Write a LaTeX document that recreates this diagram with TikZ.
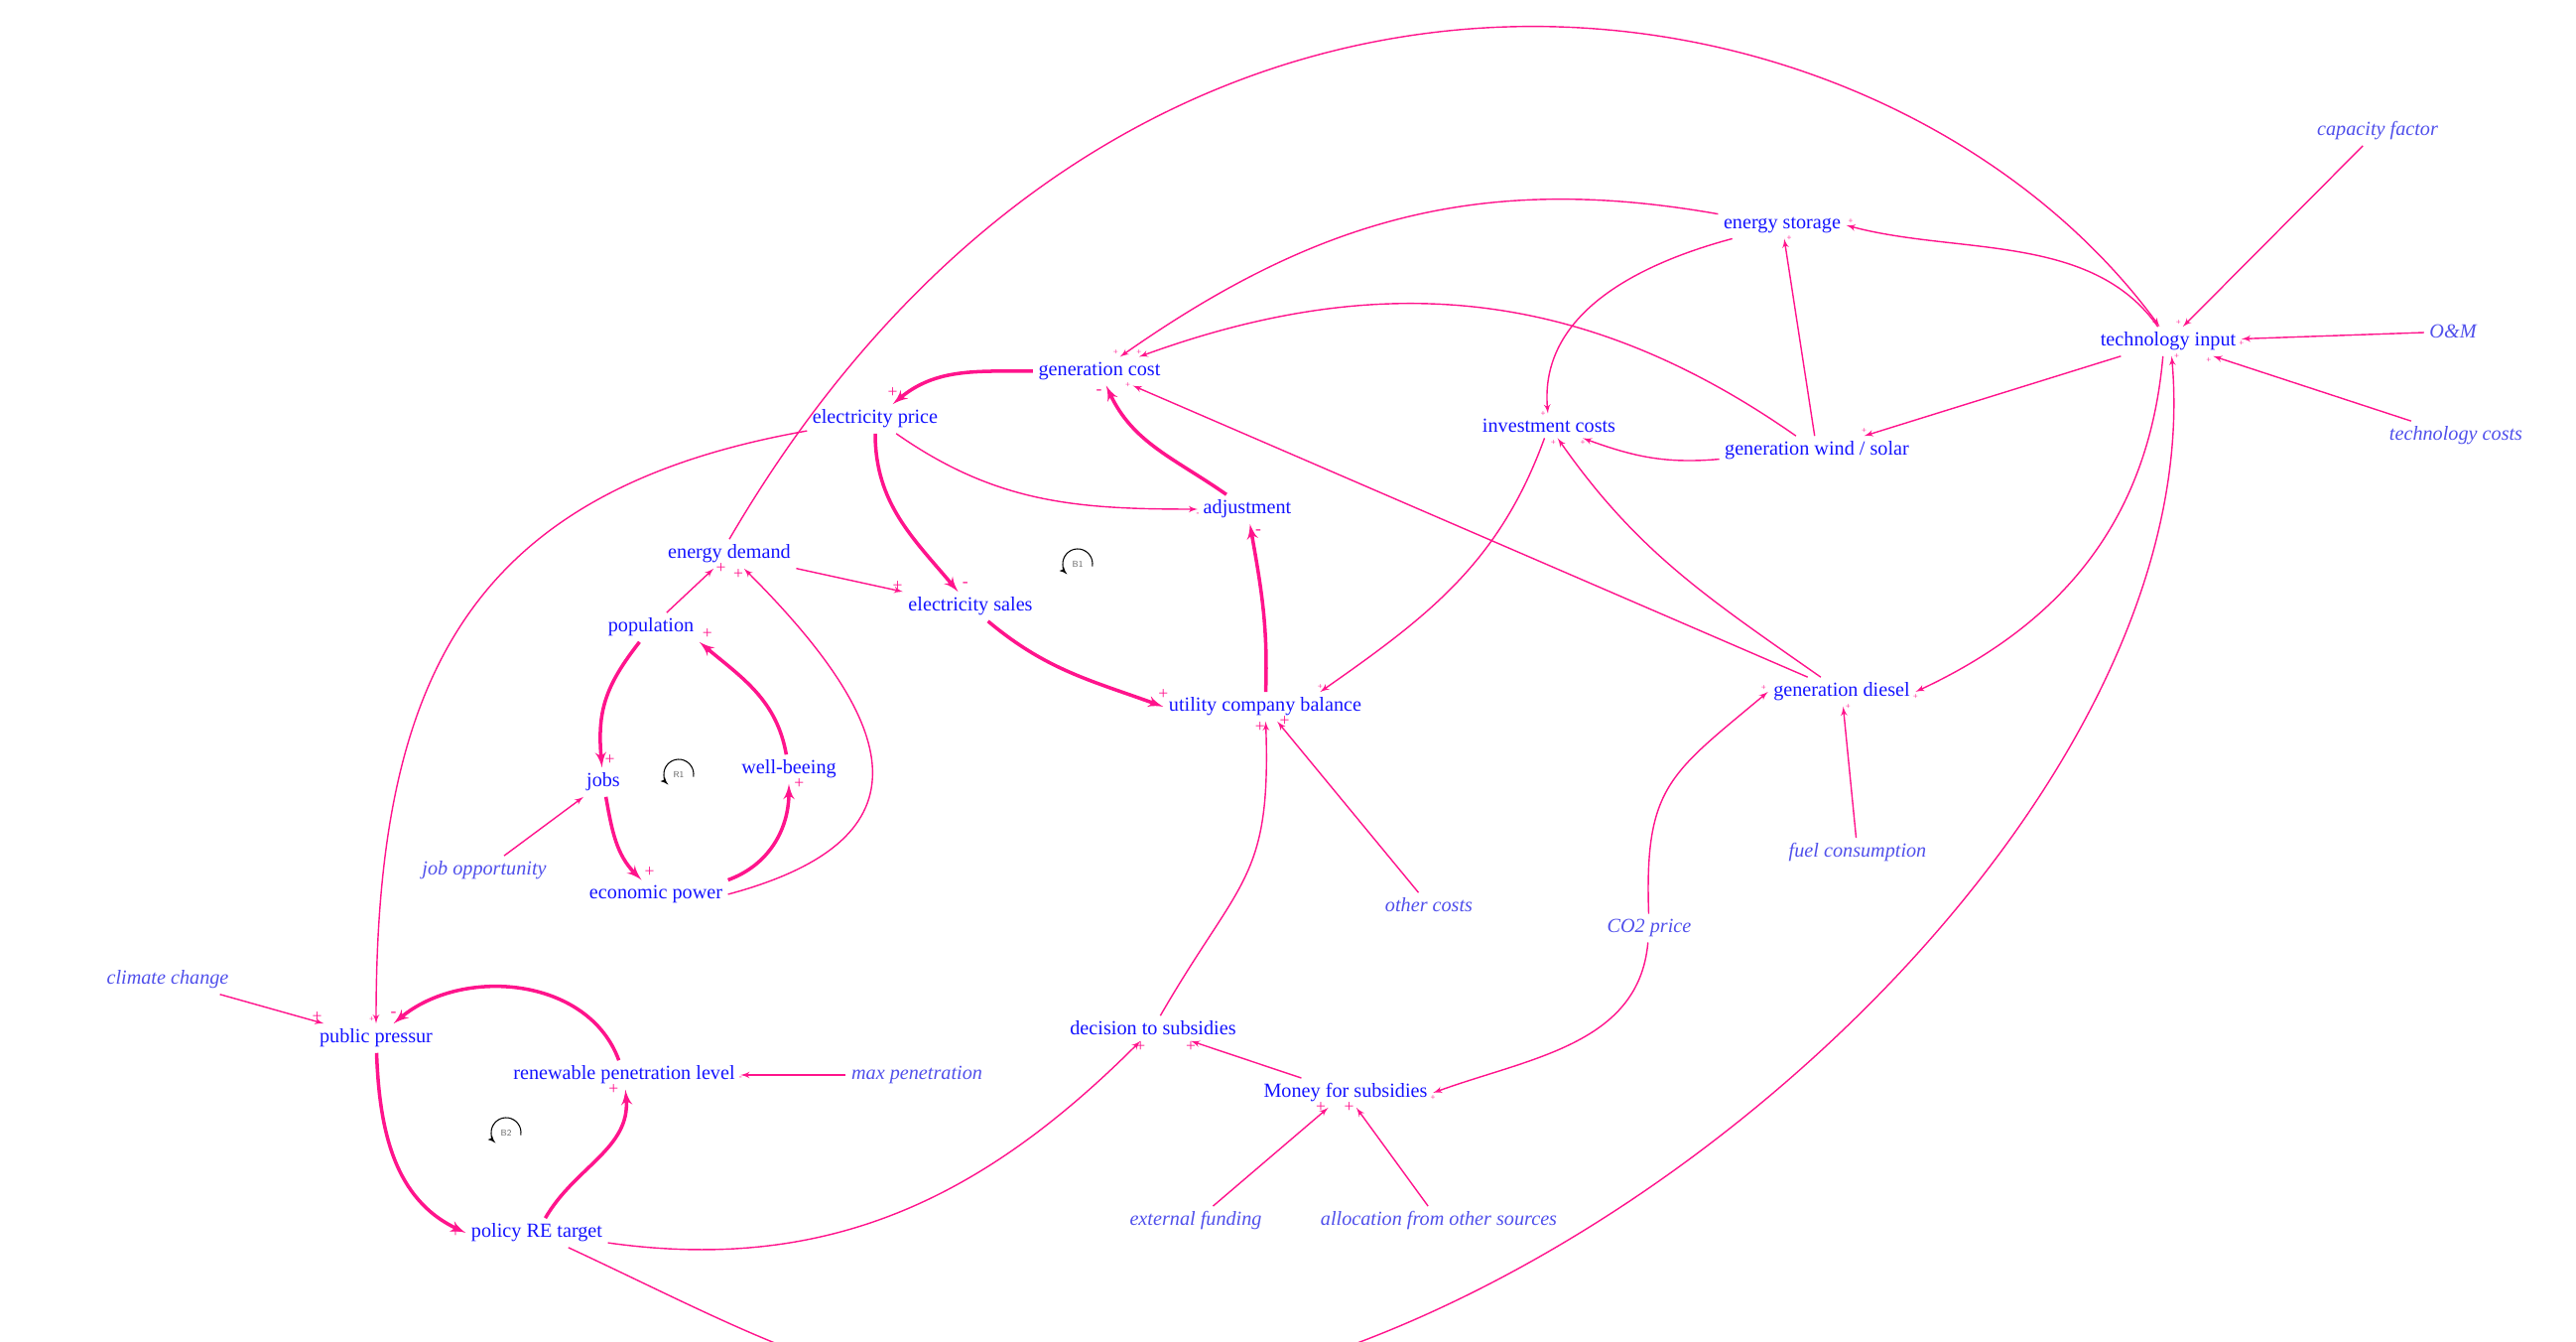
\documentclass[tikz,border=0pt]{standalone}
\usepackage{fontspec}
\setmainfont{Liberation Serif}
\usepackage{tikz}
\usetikzlibrary{arrows, positioning, calc}
\definecolor{varblue}{RGB}{20,20,255}
\definecolor{exoblue}{RGB}{80,80,235}
\definecolor{linkpink}{RGB}{255,20,140}

\begin{document}
\begin{tikzpicture}[
    x=0.02cm, y=0.02cm,
    var/.style={text=varblue, inner sep=3pt, font=\fontsize{11.5}{13}\selectfont},
    exo/.style={var, text=exoblue, font=\fontsize{11.5}{13}\selectfont\itshape},
    link/.style={-latex', draw=linkpink, line width=0.8pt},
    strong/.style={link, line width=2pt},
    pol/.style={text=linkpink, inner sep=0pt, font=\fontsize{10}{10}\selectfont},
    polsm/.style={pol, font=\fontsize{5}{5}\selectfont},
    loopname/.style={text=black!60, inner sep=0pt, font=\fontsize{5}{5}\selectfont\sffamily},
    looparrow/.style={-latex', black, line width=0.6pt}
]
    \useasboundingbox (0,0) rectangle (2596,1352);

    \node [var] (gencost) at (1108,978) {generation cost};
    \node [var] (elecprice) at (882,930) {electricity price};
    \node [var] (adjust) at (1257,839) {adjustment};
    \node [var] (demand) at (735,794) {energy demand};
    \node [var] (sales) at (978,741) {electricity sales};
    \node [var] (population) at (656,720) {population};
    \node [var] (balance) at (1275,640) {utility company balance};
    \node [var] (jobs) at (608,564) {jobs};
    \node [var] (wellbeing) at (795,577) {well-beeing};
    \node [exo] (jobopp) at (488,475) {job opportunity};
    \node [var] (econpower) at (661,451) {economic power};
    \node [var] (storage) at (1796,1125) {energy storage};
    \node [var] (techinput) at (2185,1008) {technology input};
    \node [exo] (capfactor) at (2396,1220) {capacity factor};
    \node [exo] (om) at (2472,1018) {O\&M};
    \node [exo] (techcosts) at (2475,913) {technology costs};
    \node [var] (invest) at (1561,923) {investment costs};
    \node [var] (windsolar) at (1831,898) {generation wind / solar};
    \node [var] (diesel) at (1856,655) {generation diesel};
    \node [exo] (fuel) at (1872,493) {fuel consumption};
    \node [exo] (othercosts) at (1440,440) {other costs};
    \node [exo] (co2) at (1662,417) {CO2 price};
    \node [exo] (climate) at (169,365) {climate change};
    \node [var] (pressure) at (379,306) {public pressur};
    \node [var] (repen) at (629,269) {renewable penetration level};
    \node [exo] (maxpen) at (924,269) {max penetration};
    \node [var] (decision) at (1162,316) {decision to subsidies};
    \node [var] (money) at (1356,251) {Money for subsidies};
    \node [var] (policy) at (541,110) {policy RE target};
    \node [exo] (extfund) at (1205,122) {external funding};
    \node [exo] (allocation) at (1450,122) {allocation from other sources};
    \coordinate (dip) at (1076,-60);

    \node [loopname] (B1) at (1086,784) {B1};
    \node [loopname] (R1) at (684,572) {R1};
    \node [loopname] (B2) at (510,211) {B2};
    \draw [looparrow] ([shift={(-10:0.3cm)}]B1.center) arc [start angle=-10, end angle=225, radius=0.3cm];
    \draw [looparrow] ([shift={(-10:0.3cm)}]R1.center) arc [start angle=-10, end angle=225, radius=0.3cm];
    \draw [looparrow] ([shift={(-10:0.3cm)}]B2.center) arc [start angle=-10, end angle=225, radius=0.3cm];

    \draw [strong] (gencost) to[out=180, in=40] node [pol, pos=1, above=3pt] {+} (elecprice);
    \draw [strong] (elecprice) to[out=-90, in=130] node [pol, pos=1, above right=2pt] {-} (sales);
    \draw [strong] (sales) to[out=-40, in=160] node [pol, pos=1, above=3pt] {+} (balance.west);
    \draw [strong] (balance) to[out=88, in=-80] node [pol, pos=1, below right=3pt] {-} (adjust);
    \draw [strong] (adjust) to[out=145, in=-65] node [pol, pos=1, below left=2pt] {-} (gencost);
    \draw [link] (elecprice) to[out=-35, in=180] node [polsm, pos=1, below=2pt] {-} (adjust);
    \draw [link] (elecprice) to[out=190, in=90, looseness=1.2] node [polsm, pos=1, above left=1pt] {+} (pressure);
    \draw [link] (demand.north) .. controls (1150,1520) and (1900,1400) .. (techinput.120) node [polsm, pos=1, above left=1pt] {+};
    \draw [link] (demand) -- node [pol, pos=1, above left=0pt] {+} (sales);
    \draw [link] (population) -- node [pol, pos=1, right=1pt] {+} (demand);
    \draw [link] (econpower.east) to[out=15, in=-45, looseness=1.7] node [pol, pos=1, below left=0pt] {+} (demand);

    \draw [strong] (population) to[out=232, in=95, looseness=1.1] node [pol, pos=1, above right=1pt] {+} (jobs);
    \draw [strong] (jobs) to[out=-80, in=135] node [pol, pos=1, above right=1pt] {+} (econpower);
    \draw [strong] (econpower.north east) to[out=20, in=-90] node [pol, pos=1, right=2pt] {+} (wellbeing);
    \draw [strong] (wellbeing) to[out=100, in=-40] node [pol, pos=1, above right=1pt] {+} (population.south east);
    \draw [link] (jobopp) -- (jobs);

    \draw [link] (climate) -- node [pol, pos=1, above left=1pt] {+} (pressure);
    \draw [strong] (repen) to[out=110, in=40] node [pol, pos=1, above=3pt] {-} (pressure);
    \draw [strong] (pressure) to[out=-88, in=155] node [pol, pos=1, left=2pt] {+} (policy.west);
    \draw [strong] (policy) to[out=60, in=-85] node [pol, pos=1, left=3pt] {+} (repen);
    \draw [link] (maxpen) -- node [polsm, pos=1, below=1pt] {-} (repen);
    \draw [link] (policy) to[out=-8, in=-135] node [pol, pos=1, below=0pt] {+} (decision);
    \draw [link] (policy) to[out=-25, in=180] (dip) to[out=0, in=-85, looseness=0.8] node [polsm, pos=1, right=1pt] {+} ([xshift=2pt]techinput.south);

    \draw [link] (decision) to[out=60, in=-88, looseness=1.3] node [pol, pos=1, below left=0pt] {+} (balance);
    \draw [link] (othercosts) -- node [pol, pos=1, right=1pt] {+} (balance);
    \draw [link] (money) -- node [pol, pos=1, below=0pt] {+} (decision);
    \draw [link] (extfund) -- node [pol, pos=1, left=1pt] {+} (money);
    \draw [link] (allocation) -- node [pol, pos=1, left=1pt] {+} (money);
    \draw [link] (co2) to[out=-95, in=20] node [polsm, pos=1, below=1pt] {+} (money.east);
    \draw [link] (co2) to[out=92, in=-140, looseness=1.3] node [polsm, pos=1, above left=1pt] {+} (diesel.west);
    \draw [link] (fuel) -- node [polsm, pos=1, right=1pt] {+} (diesel);
    \draw [link] (diesel) -- node [polsm, pos=1, left=1pt] {+} (gencost);
    \draw [link] (diesel) to[out=145, in=-55] node [polsm, pos=1, below left=1pt] {+} (invest);
    \draw [link] (invest) to[out=-110, in=35] node [polsm, pos=1, above=1pt] {+} (balance.15);

    \draw [link] (windsolar) to[out=185, in=-20] node [polsm, pos=1, below=1pt] {+} (invest);
    \draw [link] (windsolar) -- node [polsm, pos=1, right=1pt] {+} (storage);
    \draw [link] (windsolar) to[out=145, in=20] node [polsm, pos=1, above=1pt] {+} (gencost);
    \draw [link] (storage) to[out=170, in=35] node [polsm, pos=1, above left=1pt] {+} (gencost);
    \draw [link] (storage) to[out=195, in=95] node [polsm, pos=1, left=1pt] {+} (invest);
    \draw [link] (techinput) to[out=125, in=-15, looseness=0.9] node [polsm, pos=1, above right=1pt] {+} (storage.east);
    \draw [link] (techinput) -- node [polsm, pos=1, above=1pt] {+} (windsolar);
    \draw [link] ([xshift=-3pt]techinput.south) to[out=-95, in=25] node [polsm, pos=1, below=1pt] {+} (diesel.east);
    \draw [link] (capfactor) -- node [polsm, pos=1, above left=1pt] {+} (techinput);
    \draw [link] (om) -- node [polsm, pos=1, below=1pt] {+} (techinput);
    \draw [link] (techcosts) -- node [polsm, pos=1, below left=1pt] {+} (techinput);
\end{tikzpicture}
\end{document}
